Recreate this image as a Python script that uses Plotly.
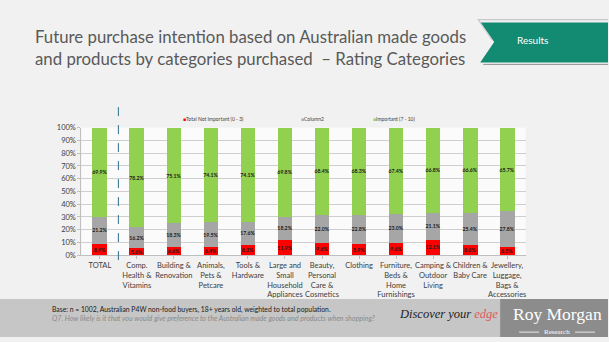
import plotly.graph_objects as go

W, H = 609, 342

categories = [
    "TOTAL", "Comp.<br>Health &<br>Vitamins", "Building &<br>Renovation",
    "Animals,<br>Pets &<br>Petcare", "Tools &<br>Hardware",
    "Large and<br>Small<br>Household<br>Appliances",
    "Beauty,<br>Personal<br>Care &<br>Cosmetics", "Clothing",
    "Furniture,<br>Beds &<br>Home<br>Furnishings",
    "Camping &<br>Outdoor<br>Living", "Children &<br>Baby Care",
    "Jewellery,<br>Luggage,<br>Bags &<br>Accessories",
]
not_important = [8.9, 5.6, 6.6, 6.4, 8.3, 11.9, 9.6, 8.9, 9.6, 12.1, 8.0, 6.5]
column2 = [21.2, 16.2, 18.3, 19.5, 17.6, 18.2, 22.0, 22.8, 23.0, 21.1, 25.4, 27.8]
important = [69.9, 78.2, 75.1, 74.1, 74.1, 69.8, 68.4, 68.3, 67.4, 66.8, 66.6, 65.7]
y_ticks = [0, 10, 20, 30, 40, 50, 60, 70, 80, 90, 100]
series_names = ["Total Not Important (0 - 3)", "Column2", "Important (7 - 10)"]
series_colors = ["#ff0000", "#a6a6a6", "#92d050"]

FONT = "Lato"


def px(x):
    return x / W


def py(y):
    return 1 - y / H


xs = list(range(len(categories)))
fig = go.Figure()
for vals, name, col in zip([not_important, column2, important], series_names, series_colors):
    fig.add_trace(go.Bar(
        x=xs, y=vals, name=name, marker=dict(color=col, line=dict(width=0)),
        text=[f"<b>{v:.1f}%</b>" for v in vals], textposition="inside",
        insidetextanchor="middle", textangle=0, constraintext="none",
        textfont=dict(family=FONT, size=5.2, color="#1a1a1a"),
        showlegend=False,
    ))

fig.update_layout(
    width=W, height=H, margin=dict(l=0, r=0, t=0, b=0),
    barmode="stack", bargap=0.6,
    paper_bgcolor="#f1f1f1", plot_bgcolor="#fbfbfb",
    font=dict(family=FONT, color="#404040"),
    xaxis=dict(
        domain=[px(81.5), px(526.5)], range=[-0.5, len(categories) - 0.5],
        tickmode="array", tickvals=xs, ticktext=categories, tickangle=0,
        tickfont=dict(size=7.5, color="#404040"),
        showline=True, linecolor="#bfbfbf", linewidth=1,
        ticks="outside", tickson="boundaries", ticklen=3, tickcolor="#bfbfbf",
        showgrid=False, zeroline=False,
    ),
    yaxis=dict(
        domain=[py(258), py(127)], range=[0, 100],
        tickmode="array", tickvals=y_ticks, ticktext=[f"{t}%" for t in y_ticks],
        tickfont=dict(size=7.5, color="#404040"),
        showline=True, linecolor="#bfbfbf", ticks="outside", ticklen=3,
        tickcolor="#bfbfbf", showgrid=True, gridcolor="#cfcfcf", gridwidth=1,
        zeroline=False,
    ),
)

shapes = []
# dashed separator after TOTAL
shapes.append(dict(type="line", xref="x", yref="paper", x0=0.5, x1=0.5, y0=py(263), y1=py(100),
                   line=dict(color="#2e6f8a", width=1, dash="dash")))
# Results banner
shapes.append(dict(type="path", xref="paper", yref="paper",
                   path=(f"M {px(481)},{py(19)} L {px(609)},{py(19)} L {px(609)},{py(60)} "
                         f"L {px(481)},{py(60)} L {px(495)},{py(39)} Z"),
                   fillcolor="#138a72", line=dict(width=0)))
shapes.append(dict(type="path", xref="paper", yref="paper",
                   path=f"M {px(609)},{py(16)} L {px(479)},{py(16)} L {px(493)},{py(37)}",
                   line=dict(color="#c8c8c8", width=1.2)))
shapes.append(dict(type="line", xref="paper", yref="paper", x0=px(484), x1=px(609),
                   y0=py(62), y1=py(62), line=dict(color="#8f8f8f", width=1)))
# footer band
shapes.append(dict(type="rect", xref="paper", yref="paper", x0=0, x1=1, y0=0, y1=py(303),
                   fillcolor="#c6c6c6", line=dict(width=0)))
shapes.append(dict(type="rect", xref="paper", yref="paper", x0=px(501), x1=1, y0=0, y1=py(303),
                   fillcolor="#8c8c8c", line=dict(width=0)))
shapes.append(dict(type="line", xref="paper", yref="paper", x0=px(520), x1=px(540),
                   y0=py(337), y1=py(337), line=dict(color="#ffffff", width=0.8)))
shapes.append(dict(type="line", xref="paper", yref="paper", x0=px(576), x1=px(596),
                   y0=py(337), y1=py(337), line=dict(color="#ffffff", width=0.8)))
fig.update_layout(shapes=shapes)

ann = []
ann.append(dict(text="Future purchase intention based on Australian made goods<br>"
                     "and products by categories purchased  – Rating Categories",
                xref="paper", yref="paper", x=px(33), y=py(45), xanchor="left", yanchor="middle",
                align="left", showarrow=False,
                font=dict(family=FONT, size=16.8, color="#595959")))
ann.append(dict(text="Results", xref="paper", yref="paper", x=px(533), y=py(37),
                xanchor="center", yanchor="middle", showarrow=False,
                font=dict(family=FONT, size=10, color="#ffffff")))
# legend
leg_x = [181, 299, 372]
for xpos, name, col in zip(leg_x, series_names, series_colors):
    ann.append(dict(text=f"<span style='color:{col}'>■</span>{name}", xref="paper", yref="paper",
                    x=px(xpos), y=py(118), xanchor="left", yanchor="middle", showarrow=False,
                    font=dict(family=FONT, size=5, color="#404040")))
# footer texts
ann.append(dict(text="Base: n = 1002, Australian P4W non-food buyers, 18+ years old, weighted to total population.",
                xref="paper", yref="paper", x=px(50), y=py(313.5), xanchor="left", yanchor="middle",
                showarrow=False, font=dict(family=FONT, size=6.8, color="#1a1a1a")))
ann.append(dict(text="<i>Q7. How likely is it that you would give preference to the Australian made goods and products when shopping?</i>",
                xref="paper", yref="paper", x=px(50), y=py(323), xanchor="left", yanchor="middle",
                showarrow=False, font=dict(family=FONT, size=7.1, color="#8a8a8a")))
ann.append(dict(text="<i>Discover your <span style='color:#e05a5a'>edge</span></i>",
                xref="paper", yref="paper", x=px(449), y=py(318), xanchor="center", yanchor="middle",
                showarrow=False, font=dict(family="Liberation Serif", size=12.5, color="#222222")))
ann.append(dict(text="Roy Morgan", xref="paper", yref="paper", x=px(558), y=py(318),
                xanchor="center", yanchor="middle", showarrow=False,
                font=dict(family="Liberation Serif", size=17.5, color="#ffffff")))
ann.append(dict(text="Research", xref="paper", yref="paper", x=px(558), y=py(337),
                xanchor="center", yanchor="middle", showarrow=False,
                font=dict(family="Liberation Serif", size=7, color="#ffffff")))
fig.update_layout(annotations=ann)

fig.write_html("out.html")
